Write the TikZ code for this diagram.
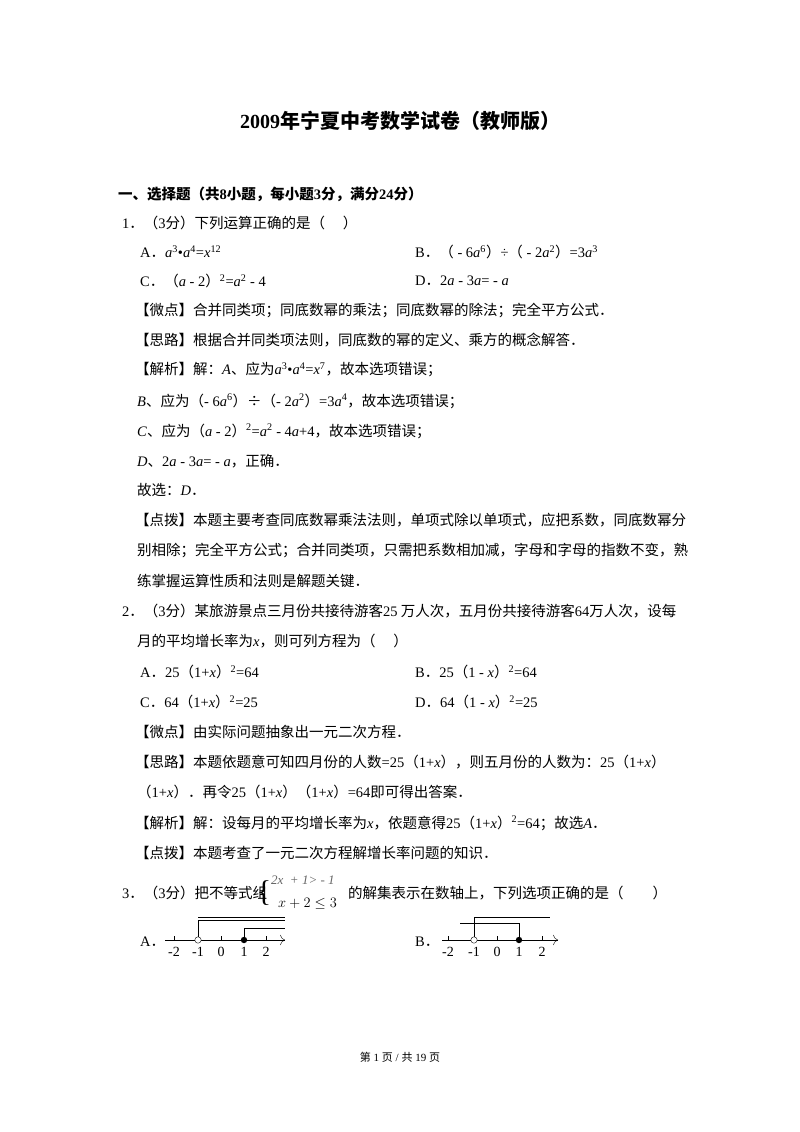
\documentclass[tikz,border=0pt]{standalone}
\usepackage{fontspec}
\usetikzlibrary{arrows.meta}
\setmainfont{Liberation Serif}
\newfontfamily\cjk{Noto Sans CJK SC}
\newcommand{\C}[1]{{\cjk #1}}
\newcommand{\I}[1]{\textit{#1}}
\newcommand{\sps}[1]{\textsuperscript{#1}}
\catcode`（=\active \def（{{\cjk\char"FF08}}
\catcode`）=\active \def）{{\cjk\char"FF09}}
\catcode`．=\active \def．{{\cjk\char"FF0E}}
\begin{document}
\begin{tikzpicture}[x=1pt,y=-1pt,
  t/.style={anchor=west,inner sep=0pt,font=\fontsize{14.5}{16}\selectfont},
  lab/.style={inner sep=0pt,font=\fontsize{14}{16}\selectfont}]
\useasboundingbox (0,0) rectangle (800,1132);
\fill[white] (0,0) rectangle (800,1132);
\node[inner sep=0pt,font=\fontsize{20}{22}\selectfont\bfseries] (title) at (400,121) {2009\C{\textbf{年宁夏中考数学试卷（教师版）}}};
\node[t] (s1) at (118,194) {\C{\textbf{一、选择题（共}}\textbf{8}\C{\textbf{小题，每小题}}\textbf{3}\C{\textbf{分，满分}}\textbf{24}\C{\textbf{分）}}};
\node[t] (q1) at (122,223) {1．（3\C{分）下列运算正确的是（\quad\ ）}};
\node[t] (q1a) at (140,252) {A．\I{a}\sps{3}•\I{a}\sps{4}=\I{x}\sps{12}};
\node[t] (q1b) at (415,252) {B．（ - 6\I{a}\sps{6}）÷（ - 2\I{a}\sps{2}）=3\I{a}\sps{3}};
\node[t] (q1c) at (140,281) {C．（\I{a} - 2）\sps{2}=\I{a}\sps{2} - 4};
\node[t] (q1d) at (415,281) {D．2\I{a} - 3\I{a}= - \I{a}};
\node[t] (w1) at (135,310) {\C{【微点】合并同类项；同底数幂的乘法；同底数幂的除法；完全平方公式．}};
\node[t] (l1) at (135,340) {\C{【思路】根据合并同类项法则，同底数的幂的定义、乘方的概念解答．}};
\node[t] (j1) at (135,370) {\C{【解析】解：}\I{A}\C{、应为}\I{a}\sps{3}•\I{a}\sps{4}=\I{x}\sps{7}\C{，故本选项错误；}};
\node[t] (j1b) at (137,401) {\I{B}\C{、应为（}- 6\I{a}\sps{6}\C{）÷（}- 2\I{a}\sps{2}\C{）}=3\I{a}\sps{4}\C{，故本选项错误；}};
\node[t] (j1c) at (137,431) {\I{C}\C{、应为（}\I{a} - 2\C{）}\sps{2}=\I{a}\sps{2} - 4\I{a}+4\C{，故本选项错误；}};
\node[t] (j1d) at (137,461) {\I{D}\C{、}2\I{a} - 3\I{a}= - \I{a}\C{，正确．}};
\node[t] (g1) at (137,490) {\C{故选：}\I{D}．};
\node[t] (d1) at (135,520) {\C{【点拨】本题主要考查同底数幂乘法法则，单项式除以单项式，应把系数，同底数幂分}};
\node[t] (d1b) at (137,550) {\C{别相除；完全平方公式；合并同类项，只需把系数相加减，字母和字母的指数不变，熟}};
\node[t] (d1c) at (137,581) {\C{练掌握运算性质和法则是解题关键．}};
\node[t] (q2) at (122,611) {2．（3\C{分）某旅游景点三月份共接待游客}25\C{ 万人次，五月份共接待游客}64\C{万人次，设每}};
\node[t] (q2b) at (137,641) {\C{月的平均增长率为}\I{x}\C{，则可列方程为（\quad\ ）}};
\node[t] (q2a) at (140,672) {A．25（1+\I{x}）\sps{2}=64};
\node[t] (q2bb) at (415,672) {B．25（1 - \I{x}）\sps{2}=64};
\node[t] (q2c) at (140,702) {C．64（1+\I{x}）\sps{2}=25};
\node[t] (q2d) at (415,702) {D．64（1 - \I{x}）\sps{2}=25};
\node[t] (w2) at (135,732) {\C{【微点】由实际问题抽象出一元二次方程．}};
\node[t] (l2) at (135,762) {\C{【思路】本题依题意可知四月份的人数}=25（1+\I{x}）\C{，则五月份的人数为：}25（1+\I{x}）};
\node[t] (l2b) at (137,792) {（1+\I{x}）\C{．再令}25（1+\I{x}）（1+\I{x}）=64\C{即可得出答案．}};
\node[t] (j2) at (135,823) {\C{【解析】解：设每月的平均增长率为}\I{x}\C{，依题意得}25（1+\I{x}）\sps{2}=64\C{；故选}\I{A}．};
\node[t] (d2) at (135,853) {\C{【点拨】本题考查了一元二次方程解增长率问题的知识．}};
\node[t] (q3) at (122,893) {3．（3\C{分）把不等式组}};
\node[inner sep=0pt,font=\fontsize{30}{30}\selectfont] (br) at (264,893) {\{};
\node[t,font=\fontsize{13}{14}\selectfont\itshape,text=black!60] (i1) at (271,880) {2x \ + 1> - 1};
\node[t,font=\fontsize{15}{15}\selectfont] (i2) at (278,904) {$x+2\leq 3$};
\node[t] (q3b) at (348,893) {\C{的解集表示在数轴上，下列选项正确的是（\qquad ）}};
% A
\node[t] (oa) at (140,942) {A．};
\draw[-{>[length=5pt]}] (165,940) -- (285,940);
\foreach \x/\l in {174/-2,198/-1,221/0,244/1,266/2}{\draw (\x,936)--(\x,940); \node[lab] at (\x,952) {\l};}
\draw (198,940)--(198,920)--(285,920); \draw (198,917.5)--(285,917.5);
\draw (244,940)--(244,928)--(285,928);
\draw[fill=white] (198,940) circle (3.2);
\fill (244,940) circle (3.2);
% B
\node[t] (ob) at (415,942) {B．};
\draw[-{>[length=5pt]}] (442,940) -- (558,940);
\foreach \x/\l in {448/-2,474/-1,497/0,519/1,542/2}{\draw (\x,936)--(\x,940); \node[lab] at (\x,952) {\l};}
\draw (460,923)--(519,923)--(519,940);
\draw (474,940)--(474,917)--(550,917);
\draw[fill=white] (474,940) circle (3.2);
\fill (519,940) circle (3.2);
\node[inner sep=0pt,font=\fontsize{11}{12}\selectfont] (foot) at (400,1057) {\C{第} 1 \C{页} / \C{共} 19 \C{页}};
\end{tikzpicture}
\end{document}
